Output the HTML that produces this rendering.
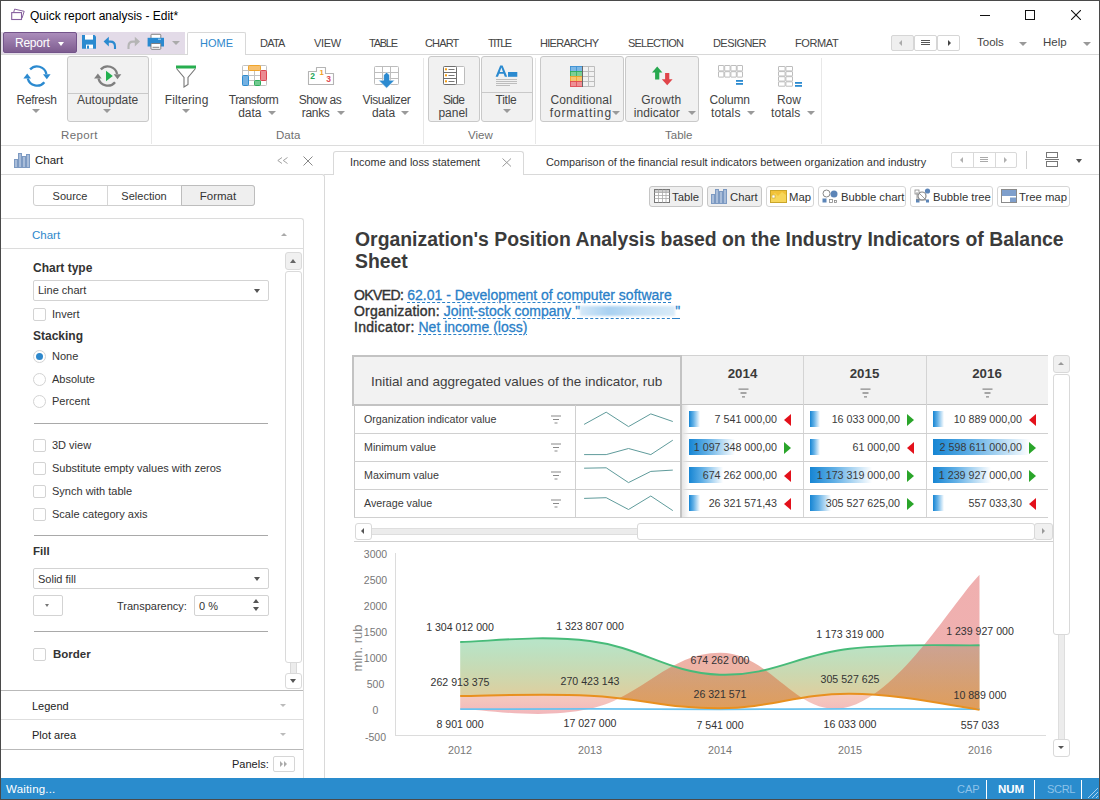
<!DOCTYPE html>
<html><head><meta charset="utf-8">
<style>
*{box-sizing:border-box;margin:0;padding:0}
html,body{width:1100px;height:800px;overflow:hidden;background:#fff;font-family:"Liberation Sans",sans-serif;color:#333;font-size:12px}
.a{position:absolute}
#win{position:absolute;left:0;top:0;width:1100px;height:800px;background:#fff;overflow:hidden}
.t{position:absolute;white-space:nowrap}
.tab{position:absolute;top:37px;font-size:11px;color:#444;letter-spacing:-0.3px;white-space:nowrap}
.rl{position:absolute;font-size:12px;color:#444;white-space:nowrap;line-height:13px;margin-top:3px}
.dd{position:absolute;width:0;height:0;border-left:4px solid transparent;border-right:4px solid transparent;border-top:4px solid #9a9a9a}
.glab{position:absolute;top:129px;font-size:11.5px;color:#707070;white-space:nowrap}
.gsep{position:absolute;top:58px;width:1px;height:86px;background:#e8e8e8}
.rbox{position:absolute;top:56px;height:66px;background:#f1f1f1;border:1px solid #c9c9c9;border-radius:3px}
.lab{-webkit-text-stroke:0.4px #333}
.lnk{color:#2a80c8;text-decoration:underline dashed #2a80c8;text-decoration-thickness:1px;text-underline-offset:2px;-webkit-text-stroke:0.3px #2a80c8}
</style></head><body>
<div id="win">
<!-- ===== title bar ===== -->
<svg class="a" style="left:8px;top:6px" width="20" height="16" viewBox="8 6 20 16"><rect x="11.7" y="12.6" width="9.8" height="6.9" fill="#fff" stroke="#86609e" stroke-width="1.1"/><path d="M13.7 12.4L14.6 9.1L24.2 11.3L22 18.2" fill="none" stroke="#86609e" stroke-width="1"/></svg>
<div class="t" style="left:30px;top:9px;font-size:12px;color:#000">Quick report analysis - Edit*</div>
<div class="a" style="left:980px;top:15px;width:10px;height:1px;background:#111"></div>
<div class="a" style="left:1025px;top:10px;width:10px;height:10px;border:1px solid #111"></div>
<svg class="a" style="left:1071px;top:10px" width="10" height="10"><path d="M0 0L10 10M10 0L0 10" stroke="#111" stroke-width="1.1"/></svg>

<!-- ===== ribbon tab row ===== -->
<div class="a" style="left:1px;top:32px;width:184px;height:22px;background:#e3dbe8"></div>
<div class="a" style="left:3px;top:32px;width:74px;height:21px;border-radius:2px;background:linear-gradient(#ab8dbb,#7e5d90);border:1px solid #73548a"></div>
<div class="t" style="left:15px;top:36px;font-size:12px;letter-spacing:-0.25px;color:#fff">Report</div>
<div class="dd" style="left:58px;top:42px;border-top-color:#fff;border-left-width:3.5px;border-right-width:3.5px"></div>
<!-- save -->
<svg class="a" style="left:80px;top:33px" width="20" height="18" viewBox="80 33 20 18"><path d="M82 35H94.5L96 36.5V48.7H82Z" fill="#2b8ad0"/><rect x="85" y="35" width="8" height="4.6" fill="#fff"/><rect x="86" y="44.6" width="7" height="4.1" fill="#fff"/><rect x="87" y="45.6" width="2" height="3.1" fill="#2b8ad0"/></svg>
<!-- undo -->
<svg class="a" style="left:102px;top:35px" width="16" height="15" viewBox="102 35 16 15"><path d="M103.6 41.6L108.8 36.8V46.4Z" fill="#2b8ad0"/><path d="M107.5 41.6H110.5Q115 41.6 115 46.5V49" fill="none" stroke="#2b8ad0" stroke-width="2.1"/></svg>
<!-- redo -->
<svg class="a" style="left:126px;top:35px" width="16" height="15" viewBox="126 35 16 15"><path d="M140 41.6L134.8 36.8V46.4Z" fill="#b5b5b5"/><path d="M136 41.6H133Q128.5 41.6 128.5 46.5V49" fill="none" stroke="#b5b5b5" stroke-width="2.1"/></svg>
<!-- print -->
<svg class="a" style="left:146px;top:33px" width="20" height="18" viewBox="146 33 20 18"><rect x="151" y="34.3" width="9.8" height="5" rx="0.8" fill="#fff" stroke="#777" stroke-width="0.9"/><rect x="147.6" y="37.8" width="16.4" height="8.7" fill="#2b8ad0"/><rect x="158" y="38.6" width="3" height="1.4" fill="#8cc4ec"/><rect x="151" y="43.5" width="9.8" height="5.8" rx="0.8" fill="#fff" stroke="#777" stroke-width="0.9"/><path d="M152.5 47.3H159.3" stroke="#777" stroke-width="0.9"/></svg>
<div class="dd" style="left:172px;top:41px;border-top-color:#aaa"></div>

<!-- tabs -->
<div class="a" style="left:187px;top:32px;width:59px;height:23px;background:#fff;border:1px solid #d8d8d8;border-bottom:none;border-radius:2px 2px 0 0"></div>
<div class="a" style="left:0;top:54px;width:187px;height:1px;background:#d8d8d8"></div>
<div class="a" style="left:246px;top:54px;width:854px;height:1px;background:#d8d8d8"></div>
<div class="tab" style="left:200px;letter-spacing:0px;color:#2e88cc">HOME</div>
<div class="tab" style="left:260px;letter-spacing:-0.77px">DATA</div>
<div class="tab" style="left:314px;letter-spacing:-0.33px">VIEW</div>
<div class="tab" style="left:369px;letter-spacing:-1.25px">TABLE</div>
<div class="tab" style="left:425px;letter-spacing:-0.85px">CHART</div>
<div class="tab" style="left:488px;letter-spacing:-1.45px">TITLE</div>
<div class="tab" style="left:540px;letter-spacing:-0.71px">HIERARCHY</div>
<div class="tab" style="left:628px;letter-spacing:-0.8px">SELECTION</div>
<div class="tab" style="left:713px;letter-spacing:-0.57px">DESIGNER</div>
<div class="tab" style="left:795px;letter-spacing:-0.4px">FORMAT</div>

<!-- nav buttons -->
<div class="a" style="left:891px;top:35px;width:23px;height:16px;background:#efefef;border:1px solid #d6d6d6;border-radius:2px"></div>
<div class="a" style="left:914px;top:35px;width:23px;height:16px;background:#fff;border:1px solid #d6d6d6;border-radius:2px"></div>
<div class="a" style="left:937px;top:35px;width:23px;height:16px;background:#fff;border:1px solid #d6d6d6;border-radius:2px"></div>
<div class="a" style="left:899px;top:40px;width:0;height:0;border-top:3px solid transparent;border-bottom:3px solid transparent;border-right:3px solid #aaa"></div>
<div class="a" style="left:921px;top:40px;width:9px;height:5px;border-top:1px solid #555;border-bottom:1px solid #555"></div>
<div class="a" style="left:921px;top:42px;width:9px;height:1px;background:#555"></div>
<div class="a" style="left:948px;top:40px;width:0;height:0;border-top:3px solid transparent;border-bottom:3px solid transparent;border-left:3px solid #444"></div>
<div class="tab" style="left:977px;top:36px;font-size:11.5px;letter-spacing:0">Tools</div>
<div class="dd" style="left:1019px;top:42px;border-top-color:#999"></div>
<div class="tab" style="left:1043px;top:36px;font-size:11.5px;letter-spacing:0">Help</div>
<div class="dd" style="left:1083px;top:42px;border-top-color:#999"></div>

<!-- ===== ribbon body ===== -->
<!-- Report group -->
<svg class="a" style="left:20px;top:62px" width="34" height="30" viewBox="20 62 34 30"><path d="M30.09 69.33A9.6 9.6 0 0 1 46.39 74.00" fill="none" stroke="#2b8ad0" stroke-width="2.3"/><path d="M44.35 82.17A9.6 9.6 0 0 1 27.73 78.48" fill="none" stroke="#2b8ad0" stroke-width="2.3"/><path d="M43.0 74.2L50.6 74.2L46.8 79.2z" fill="#2b8ad0"/><path d="M23.4 78.4L31.0 78.4L27.2 73.4z" fill="#2b8ad0"/></svg>
<div class="dd" style="left:32px;top:109px"></div>

<div class="rbox" style="left:67px;width:82px"></div>
<div class="a" style="left:68px;top:93px;width:80px;height:1px;background:#c9c9c9"></div>
<svg class="a" style="left:91px;top:62px" width="34" height="30" viewBox="91 62 34 30"><path d="M100.79 69.33A9.6 9.6 0 0 1 117.09 74.00" fill="none" stroke="#7f7f7f" stroke-width="2.3"/><path d="M115.05 82.17A9.6 9.6 0 0 1 98.43 78.48" fill="none" stroke="#7f7f7f" stroke-width="2.3"/><path d="M113.7 74.2L121.3 74.2L117.5 79.2z" fill="#7f7f7f"/><path d="M94.1 78.4L101.7 78.4L97.9 73.4z" fill="#7f7f7f"/><path d="M106.0 70.8L112.8 76L106.0 81.2z" fill="#22b04f"/></svg>
<div class="dd" style="left:103px;top:109px"></div>
<div class="glab" style="left:61px;letter-spacing:0.4px">Report</div>
<div class="gsep" style="left:151px"></div>

<!-- Data group -->
<svg class="a" style="left:175px;top:65px" width="22" height="23" viewBox="0 0 22 23"><rect x="1" y="0.5" width="20" height="3" fill="#27ae4f"/><path d="M1.5 3.5 L9 12.5 V22 L13 19.5 V12.5 L20.5 3.5" fill="none" stroke="#777" stroke-width="1.1"/></svg>
<div class="dd" style="left:182px;top:109px"></div>

<svg class="a" style="left:241px;top:64px" width="28" height="24" viewBox="241 64 28 24"><g fill="none" stroke="#c2c2c2" stroke-width="1"><rect x="242.5" y="65.5" width="24" height="20" rx="1"/><path d="M242.5 70.5H266.5M242.5 75.5H266.5M242.5 80.5H266.5M248.5 65.5V85.5M254.5 65.5V85.5M260.5 65.5V85.5"/></g><rect x="248.5" y="65.5" width="12" height="5" rx="1" fill="#f7c170" stroke="#f0a52c"/><rect x="260.5" y="70.5" width="6" height="10" rx="1" fill="#ea8a92" stroke="#df4450"/><rect x="242.5" y="75.5" width="6" height="10" rx="1" fill="#74b1e2" stroke="#2d8cd0"/><rect x="254.5" y="80.5" width="6" height="5" rx="1" fill="#72c990" stroke="#2fae5c"/></svg>
<div class="dd" style="left:268px;top:111px"></div>

<svg class="a" style="left:306px;top:65px" width="30" height="22" viewBox="306 65 30 22"><path d="M308.5 84.5V71.5H316.5V67.5H325.5V73.5H333.5V84.5Z" fill="#fff" stroke="#b4b4b4" stroke-width="1.1" stroke-linejoin="round"/><text x="310.3" y="79" font-size="8.5" font-family="Liberation Sans" font-weight="bold" fill="#27a85a">2</text><text x="319.5" y="74.5" font-size="7.8" font-family="Liberation Sans" font-weight="bold" fill="#f0a020">1</text><text x="326.3" y="81.5" font-size="8.5" font-family="Liberation Sans" font-weight="bold" fill="#e04a50">3</text></svg>
<div class="dd" style="left:337px;top:111px"></div>

<svg class="a" style="left:372px;top:64px" width="30" height="26" viewBox="372 64 30 26"><g fill="none" stroke="#bdbdbd" stroke-width="1"><rect x="374.5" y="66.5" width="24" height="18" rx="1"/><path d="M374.5 72.5H398.5M374.5 78.5H398.5M382.5 66.5V84.5M390.5 66.5V84.5"/></g><path d="M386.6 72.3L389.6 75V80.2H394.6L386.6 88.2L378.6 80.2H383.6V75Z" fill="#2b8ad0" stroke="#fff" stroke-width="0.6"/></svg>
<div class="dd" style="left:401px;top:111px"></div>
<div class="glab" style="left:276px">Data</div>
<div class="gsep" style="left:423px"></div>

<!-- View group -->
<div class="rbox" style="left:428px;width:52px"></div>
<svg class="a" style="left:441px;top:64px" width="26" height="23" viewBox="441 64 26 23"><rect x="443.5" y="66.5" width="21" height="18" rx="1" fill="#fff" stroke="#bcbcbc"/><rect x="443.5" y="66.5" width="13" height="18" rx="1" fill="#fff" stroke="#6f6f6f"/><path d="M443.5 72.5H456.5M443.5 78.5H456.5" stroke="#6f6f6f"/><g fill="#f39c12"><rect x="445" y="68.3" width="2" height="2"/><rect x="445" y="74.3" width="2" height="2"/><rect x="445" y="80.3" width="2" height="2"/></g><path d="M448.5 69.5H454.5M448.5 75.5H454.5M448.5 81.5H454.5" stroke="#777"/></svg>

<div class="rbox" style="left:481px;width:52px"></div>
<div class="a" style="left:482px;top:92px;width:50px;height:1px;background:#c9c9c9"></div>
<svg class="a" style="left:494px;top:63px" width="26" height="25" viewBox="494 63 26 25"><path d="M495.6 76.8L500.2 65.4H502.6L507.2 76.8H504.8L503.7 73.8H499.1L498 76.8ZM499.8 71.9H503L501.4 67.6Z" fill="#2b8ad0"/><rect x="508" y="72" width="9.3" height="4.8" fill="#2b8ad0"/><path d="M496 79.5H517M496 81.5H517M496 83.5H517M496 85.5H510" stroke="#b0b0b0" stroke-width="0.8"/></svg>
<div class="dd" style="left:503px;top:109px"></div>
<div class="glab" style="left:468px">View</div>
<div class="gsep" style="left:535px"></div>

<!-- Table group -->
<div class="rbox" style="left:540px;width:84px"></div>
<svg class="a" style="left:568px;top:64px" width="30" height="25" viewBox="568 64 30 25"><rect x="570.5" y="66.5" width="12" height="5" fill="#7db8e6" stroke="#3a8fd2" stroke-width="0.9"/><path d="M576.5 66.5V71.5" stroke="#3a8fd2" stroke-width="0.8"/><rect x="570.5" y="71.5" width="12" height="5" fill="#7ccf95" stroke="#33ad5a" stroke-width="0.9"/><path d="M576.5 71.5V76.5" stroke="#33ad5a" stroke-width="0.8"/><rect x="570.5" y="76.5" width="12" height="5" fill="#f6c46f" stroke="#eea22b" stroke-width="0.9"/><path d="M576.5 76.5V81.5" stroke="#eea22b" stroke-width="0.8"/><rect x="570.5" y="81.5" width="12" height="5" fill="#ee8f95" stroke="#df4a52" stroke-width="0.9"/><path d="M576.5 81.5V86.5" stroke="#df4a52" stroke-width="0.8"/><g fill="none" stroke="#bdbdbd"><path d="M582.5 66.5H594.5V86.5H582.5M582.5 71.5H594.5M582.5 76.5H594.5M582.5 81.5H594.5M588.5 66.5V86.5"/></g><path d="M582.5 66V87" stroke="#666" stroke-width="1"/></svg>
<div class="dd" style="left:612px;top:111px"></div>

<div class="rbox" style="left:625px;width:74px"></div>
<svg class="a" style="left:650px;top:65px" width="25" height="22" viewBox="650 65 25 22"><path d="M657.2 66.6L662.4 72.6H659.3V79.4H655.1V72.6H652Z" fill="#27a84f"/><path d="M665.1 73H669.3V79.2H672.6L667.2 85.2L661.8 79.2H665.1Z" fill="#e0454a"/></svg>
<div class="dd" style="left:688px;top:111px"></div>

<svg class="a" style="left:716px;top:63px" width="30" height="24" viewBox="716 63 30 24"><g fill="#fff" stroke="#bdbdbd" stroke-width="1"><rect x="718.5" y="65.5" width="5.4" height="5.4" rx="0.3"/><rect x="724.7" y="65.5" width="5.4" height="5.4" rx="0.3"/><rect x="730.9" y="65.5" width="5.4" height="5.4" rx="0.3"/><rect x="737.1" y="65.5" width="5.4" height="5.4" rx="0.3"/><rect x="718.5" y="71.7" width="5.4" height="5.4" rx="0.3"/><rect x="724.7" y="71.7" width="5.4" height="5.4" rx="0.3"/><rect x="730.9" y="71.7" width="5.4" height="5.4" rx="0.3"/><rect x="737.1" y="71.7" width="5.4" height="5.4" rx="0.3"/></g><rect x="736" y="80" width="7" height="1.8" fill="#2b8ad0"/><rect x="736" y="83" width="7" height="1.8" fill="#2b8ad0"/></svg>
<div class="dd" style="left:747px;top:111px"></div>

<svg class="a" style="left:776px;top:64px" width="28" height="24" viewBox="776 64 28 24"><g fill="#fff" stroke="#bdbdbd" stroke-width="1"><rect x="778.5" y="66.5" width="6.6" height="4.4" rx="0.3"/><rect x="785.9" y="66.5" width="6.6" height="4.4" rx="0.3"/><rect x="778.5" y="71.6" width="6.6" height="4.4" rx="0.3"/><rect x="785.9" y="71.6" width="6.6" height="4.4" rx="0.3"/><rect x="778.5" y="76.7" width="6.6" height="4.4" rx="0.3"/><rect x="785.9" y="76.7" width="6.6" height="4.4" rx="0.3"/><rect x="778.5" y="81.8" width="6.6" height="4.4" rx="0.3"/><rect x="785.9" y="81.8" width="6.6" height="4.4" rx="0.3"/></g><rect x="795" y="82" width="7" height="1.8" fill="#2b8ad0"/><rect x="795" y="85" width="7" height="1.8" fill="#2b8ad0"/></svg>
<div class="dd" style="left:807px;top:111px"></div>
<div class="glab" style="left:665px">Table</div>
<div class="gsep" style="left:821px"></div>

<div class="rl" style="left:16.6px;top:91px;letter-spacing:-0.3px">Refresh</div>
<div class="rl" style="left:76.9px;top:91px;letter-spacing:0px">Autoupdate</div>
<div class="rl" style="left:164.7px;top:91px;letter-spacing:0.12px">Filtering</div>
<div class="rl" style="left:228.8px;top:91px;letter-spacing:-0.55px">Transform</div>
<div class="rl" style="left:238.2px;top:104px;letter-spacing:0px">data</div>
<div class="rl" style="left:298.7px;top:91px;letter-spacing:-0.5px">Show as</div>
<div class="rl" style="left:301.7px;top:104px;letter-spacing:-0.3px">ranks</div>
<div class="rl" style="left:362.5px;top:91px;letter-spacing:-0.4px">Visualizer</div>
<div class="rl" style="left:371.9px;top:104px;letter-spacing:0px">data</div>
<div class="rl" style="left:443.0px;top:91px;letter-spacing:-0.67px">Side</div>
<div class="rl" style="left:438.4px;top:104px;letter-spacing:0px">panel</div>
<div class="rl" style="left:495.6px;top:91px;letter-spacing:-0.27px">Title</div>
<div class="rl" style="left:550.5px;top:91px;letter-spacing:0.13px">Conditional</div>
<div class="rl" style="left:549.7px;top:104px;letter-spacing:0.89px">formatting</div>
<div class="rl" style="left:641.3px;top:91px;letter-spacing:0.24px">Growth</div>
<div class="rl" style="left:633.7px;top:104px;letter-spacing:0.09px">indicator</div>
<div class="rl" style="left:709.5px;top:91px;letter-spacing:-0.2px">Column</div>
<div class="rl" style="left:711.0px;top:104px;letter-spacing:0.14px">totals</div>
<div class="rl" style="left:776.9px;top:91px;letter-spacing:0px">Row</div>
<div class="rl" style="left:771.0px;top:104px;letter-spacing:0.1px">totals</div>
<div class="a" style="left:0;top:145px;width:1100px;height:1px;background:#dcdcdc"></div>


<!-- ===== left panel ===== -->
<svg class="a" style="left:14px;top:153px" width="16" height="15" viewBox="0 0 16 15"><g fill="#a9bdd9" stroke="#7d9ac2" stroke-width="1"><rect x="0.5" y="6.5" width="3" height="8"/><rect x="4.5" y="0.5" width="3" height="14"/><rect x="8.5" y="3.5" width="3" height="11"/><rect x="12.5" y="1.5" width="3" height="13"/></g></svg>
<div class="t" style="left:35px;top:154px;font-size:11.5px;color:#222">Chart</div>
<svg class="a" style="left:277px;top:157px" width="11" height="7" viewBox="0 0 11 7"><path d="M5 0.5L0.8 3.5L5 6.5M10.5 0.5L6.3 3.5L10.5 6.5" fill="none" stroke="#999" stroke-width="0.9"/></svg>
<svg class="a" style="left:303px;top:156px" width="10" height="10" viewBox="0 0 10 10"><path d="M0.5 0.5L9.5 9.5M9.5 0.5L0.5 9.5" stroke="#888" stroke-width="1"/></svg>
<div class="a" style="left:0;top:174px;width:325px;height:604px;border-top:1px solid #d9d9d9;border-right:1px solid #d9d9d9;border-radius:0 3px 0 0"></div>

<div class="a" style="left:33px;top:185px;width:222px;height:21px;border:1px solid #cfcfcf;border-radius:3px;background:#fff"></div>
<div class="a" style="left:107px;top:186px;width:1px;height:19px;background:#d6d6d6"></div>
<div class="a" style="left:181px;top:185px;width:74px;height:21px;border:1px solid #bdbdbd;border-radius:0 3px 3px 0;background:#efefef"></div>
<div class="t" style="left:33px;top:190px;width:74px;text-align:center;font-size:11px;color:#333">Source</div>
<div class="t" style="left:107px;top:190px;width:74px;text-align:center;font-size:11px;color:#333">Selection</div>
<div class="t" style="left:181px;top:190px;width:74px;text-align:center;font-size:11.5px;color:#333">Format</div>

<div class="a" style="left:-5px;top:218px;width:309px;height:570px;border:1px solid #dcdcdc;border-bottom:none;border-radius:3px 3px 0 0"></div>
<div class="a" style="left:0;top:248px;width:303px;height:1px;background:#dcdcdc"></div>
<div class="t" style="left:32px;top:229px;font-size:11.5px;color:#2e88cc">Chart</div>
<div class="a" style="left:281px;top:233px;width:0;height:0;border-left:3px solid transparent;border-right:3px solid transparent;border-bottom:3px solid #aaa"></div>

<div class="t" style="left:33px;top:261px;font-size:12px;font-weight:bold;color:#333">Chart type</div>
<div class="a" style="left:33px;top:280px;width:236px;height:21px;border:1px solid #d3d3d3;border-radius:2px"></div>
<div class="t" style="left:38px;top:284px;font-size:11px;color:#333">Line chart</div>
<div class="dd" style="left:254px;top:289px;border-top-color:#555;border-left-width:3.5px;border-right-width:3.5px"></div>
<div class="a" style="left:33px;top:308px;width:13px;height:13px;border:1px solid #d3d3d3;border-radius:2px"></div>
<div class="t" style="left:52px;top:308px;font-size:11px;color:#333">Invert</div>
<div class="t" style="left:33px;top:329px;font-size:12px;font-weight:bold;color:#333">Stacking</div>
<div class="a" style="left:33px;top:350px;width:13px;height:13px;border:1px solid #d3d3d3;border-radius:50%"></div>
<div class="a" style="left:36px;top:353px;width:7px;height:7px;background:#2e88cc;border-radius:50%"></div>
<div class="t" style="left:52px;top:350px;font-size:11px;color:#333">None</div>
<div class="a" style="left:33px;top:373px;width:13px;height:13px;border:1px solid #d3d3d3;border-radius:50%"></div>
<div class="t" style="left:52px;top:373px;font-size:11px;color:#333">Absolute</div>
<div class="a" style="left:33px;top:395px;width:13px;height:13px;border:1px solid #d3d3d3;border-radius:50%"></div>
<div class="t" style="left:52px;top:395px;font-size:11px;color:#333">Percent</div>
<div class="a" style="left:34px;top:423px;width:234px;height:1px;background:#a9a9a9"></div>
<div class="a" style="left:33px;top:439px;width:13px;height:13px;border:1px solid #d3d3d3;border-radius:2px"></div>
<div class="t" style="left:52px;top:439px;font-size:11px;color:#333">3D view</div>
<div class="a" style="left:33px;top:462px;width:13px;height:13px;border:1px solid #d3d3d3;border-radius:2px"></div>
<div class="t" style="left:52px;top:462px;font-size:11px;color:#333">Substitute empty values with zeros</div>
<div class="a" style="left:33px;top:485px;width:13px;height:13px;border:1px solid #d3d3d3;border-radius:2px"></div>
<div class="t" style="left:52px;top:485px;font-size:11px;color:#333">Synch with table</div>
<div class="a" style="left:33px;top:508px;width:13px;height:13px;border:1px solid #d3d3d3;border-radius:2px"></div>
<div class="t" style="left:52px;top:508px;font-size:11px;color:#333">Scale category axis</div>
<div class="a" style="left:34px;top:535px;width:234px;height:1px;background:#a9a9a9"></div>
<div class="t" style="left:33px;top:545px;font-size:11.5px;font-weight:bold;color:#333">Fill</div>
<div class="a" style="left:33px;top:568px;width:236px;height:21px;border:1px solid #d3d3d3;border-radius:2px"></div>
<div class="t" style="left:38px;top:573px;font-size:11px;color:#333">Solid fill</div>
<div class="dd" style="left:254px;top:577px;border-top-color:#555;border-left-width:3.5px;border-right-width:3.5px"></div>
<div class="a" style="left:33px;top:595px;width:30px;height:21px;border:1px solid #d3d3d3;border-radius:2px"></div>
<div class="dd" style="left:45px;top:604px;border-top-color:#777;border-left-width:2.5px;border-right-width:2.5px;border-top-width:3px"></div>
<div class="t" style="left:117px;top:600px;font-size:11px;color:#333">Transparency:</div>
<div class="a" style="left:194px;top:595px;width:75px;height:21px;border:1px solid #d3d3d3;border-radius:2px"></div>
<div class="t" style="left:199px;top:600px;font-size:11px;color:#333">0 %</div>
<div class="a" style="left:253px;top:599px;width:0;height:0;border-left:3px solid transparent;border-right:3px solid transparent;border-bottom:4px solid #555"></div>
<div class="a" style="left:253px;top:607px;width:0;height:0;border-left:3px solid transparent;border-right:3px solid transparent;border-top:4px solid #555"></div>
<div class="a" style="left:34px;top:631px;width:234px;height:1px;background:#a9a9a9"></div>
<div class="a" style="left:33px;top:648px;width:13px;height:13px;border:1px solid #d3d3d3;border-radius:2px"></div>
<div class="t" style="left:53px;top:648px;font-size:11.5px;font-weight:bold;color:#333">Border</div>

<!-- panel scrollbar -->
<div class="a" style="left:285px;top:252px;width:17px;height:18px;background:#f0f0f0;border:1px solid #dadada;border-radius:3px"></div>
<div class="a" style="left:290px;top:259px;width:0;height:0;border-left:3.5px solid transparent;border-right:3.5px solid transparent;border-bottom:4px solid #666"></div>
<div class="a" style="left:285px;top:271px;width:17px;height:392px;background:#fff;border:1px solid #dadada;border-radius:3px"></div>
<div class="a" style="left:290px;top:663px;width:7px;height:11px;background:#ececec;border-left:1px solid #dadada;border-right:1px solid #dadada"></div>
<div class="a" style="left:285px;top:673px;width:17px;height:16px;background:#fff;border:1px solid #dadada;border-radius:3px"></div>
<div class="a" style="left:290px;top:679px;width:0;height:0;border-left:3.5px solid transparent;border-right:3.5px solid transparent;border-top:4px solid #555"></div>

<div class="a" style="left:0;top:690px;width:303px;height:1px;background:#b9b9b9"></div>
<div class="t" style="left:32px;top:700px;font-size:11px;color:#222">Legend</div>
<div class="dd" style="left:280px;top:704px;border-top-color:#bbb;border-left-width:3px;border-right-width:3px;border-top-width:3px"></div>
<div class="a" style="left:0;top:719px;width:303px;height:1px;background:#dedede"></div>
<div class="t" style="left:32px;top:729px;font-size:11px;color:#222">Plot area</div>
<div class="dd" style="left:280px;top:733px;border-top-color:#bbb;border-left-width:3px;border-right-width:3px;border-top-width:3px"></div>
<div class="a" style="left:0;top:749px;width:303px;height:1px;background:#b9b9b9"></div>
<div class="t" style="left:232px;top:758px;font-size:11px;color:#222">Panels:</div>
<div class="a" style="left:273px;top:756px;width:22px;height:16px;border:1px solid #d6d6d6;border-radius:2px"></div>
<svg class="a" style="left:279px;top:761px" width="10" height="6" viewBox="0 0 10 6"><path d="M1 0L4 3L1 6zM5 0L8 3L5 6z" fill="#aaa"/></svg>


<!-- ===== document tabs ===== -->
<div class="a" style="left:324px;top:174px;width:10px;height:1px;background:#d9d9d9"></div>
<div class="a" style="left:333px;top:151px;width:191px;height:24px;background:#fff;border:1px solid #d9d9d9;border-bottom:none;border-radius:3px 3px 0 0"></div>
<div class="a" style="left:523px;top:174px;width:576px;height:1px;background:#d9d9d9"></div>
<div class="t" style="left:350px;top:156px;font-size:10.9px;color:#333">Income and loss statement</div>
<svg class="a" style="left:502px;top:158px" width="10" height="9" viewBox="0 0 10 9"><path d="M0.5 0.5L9 8.5M9 0.5L0.5 8.5" stroke="#999" stroke-width="1"/></svg>
<div class="t" style="left:546px;top:156px;font-size:10.9px;color:#333">Comparison of the financial result indicators between organization and industry</div>
<div class="a" style="left:951px;top:152px;width:66px;height:16px;border:1px solid #d9d9d9;border-radius:2px"></div>
<div class="a" style="left:973px;top:153px;width:1px;height:14px;background:#d9d9d9"></div>
<div class="a" style="left:995px;top:153px;width:1px;height:14px;background:#d9d9d9"></div>
<div class="a" style="left:960px;top:157px;width:0;height:0;border-top:3.5px solid transparent;border-bottom:3.5px solid transparent;border-right:3.5px solid #b0b0b0"></div>
<div class="a" style="left:980px;top:157px;width:8px;height:5px;border-top:1px solid #aaa;border-bottom:1px solid #aaa"></div>
<div class="a" style="left:980px;top:159px;width:8px;height:1px;background:#aaa"></div>
<div class="a" style="left:1004px;top:157px;width:0;height:0;border-top:3.5px solid transparent;border-bottom:3.5px solid transparent;border-left:3.5px solid #b0b0b0"></div>
<div class="a" style="left:1026px;top:151px;width:1px;height:18px;background:#d0d0d0"></div>
<svg class="a" style="left:1045px;top:152px" width="15" height="15" viewBox="0 0 15 15"><rect x="1.5" y="0.5" width="11" height="5" fill="none" stroke="#777"/><rect x="1.5" y="9.5" width="11" height="5" fill="none" stroke="#777"/><path d="M0 7.5H14" stroke="#777"/></svg>
<div class="dd" style="left:1076px;top:159px;border-top-color:#555;border-left-width:3.5px;border-right-width:3.5px"></div>

<!-- toolbar -->
<div class="a" style="left:649px;top:186px;width:54px;height:21px;background:#efefef;border:1px solid #c6c6c6;border-radius:3px"></div>
<svg class="a" style="left:654px;top:189px" width="17" height="15" viewBox="0 0 17 15"><rect x="0.5" y="0.5" width="15" height="13" fill="#fff" stroke="#777"/><rect x="1" y="1" width="14" height="2.5" fill="#ccc"/><path d="M0.5 3.5H15.5M0.5 6.5H15.5M0.5 9.5H15.5M4.5 0.5V13.5M8.5 0.5V13.5M12 0.5V13.5" stroke="#aaa" stroke-width="0.8"/></svg>
<div class="t" style="left:672px;top:191px;font-size:11.3px;color:#333">Table</div>
<div class="a" style="left:707px;top:186px;width:55px;height:21px;background:#efefef;border:1px solid #c6c6c6;border-radius:3px"></div>
<svg class="a" style="left:711px;top:189px" width="17" height="15" viewBox="0 0 17 15"><g fill="#a9bdd9" stroke="#7d9ac2" stroke-width="1"><rect x="0.5" y="5.5" width="3" height="9"/><rect x="4.5" y="0.5" width="3" height="14"/><rect x="8.5" y="2.5" width="3" height="12"/><rect x="12.5" y="0.5" width="3" height="14"/></g></svg>
<div class="t" style="left:730px;top:191px;font-size:11.3px;color:#333">Chart</div>
<div class="a" style="left:766px;top:186px;width:48px;height:21px;background:#fff;border:1px solid #d6d6d6;border-radius:3px"></div>
<svg class="a" style="left:770px;top:190px" width="17" height="13" viewBox="0 0 17 13"><rect x="0.5" y="0.5" width="16" height="12" fill="#f7d659" stroke="#c9a52a"/><path d="M1 6L5 3L8 6L12 2L16 5V1H1z" fill="#f2c238"/><rect x="2" y="5" width="3" height="3" fill="#fff" stroke="#c9a52a" stroke-width="0.6"/></svg>
<div class="t" style="left:789px;top:191px;font-size:11.3px;color:#333">Map</div>
<div class="a" style="left:818px;top:186px;width:88px;height:21px;background:#fff;border:1px solid #d6d6d6;border-radius:3px"></div>
<svg class="a" style="left:822px;top:189px" width="17" height="15" viewBox="0 0 17 15"><circle cx="4.5" cy="4.5" r="3.5" fill="#fff" stroke="#888"/><circle cx="12" cy="5" r="3.5" fill="#5c85b8"/><rect x="0.5" y="9.5" width="4" height="4" fill="#5c85b8"/><rect x="7.5" y="10.5" width="3" height="3" fill="#fff" stroke="#888" stroke-width="0.8"/><rect x="12.5" y="11.5" width="2" height="2" fill="#fff" stroke="#888" stroke-width="0.8"/></svg>
<div class="t" style="left:841px;top:191px;font-size:11.3px;color:#333">Bubble chart</div>
<div class="a" style="left:910px;top:186px;width:83px;height:21px;background:#fff;border:1px solid #d6d6d6;border-radius:3px"></div>
<svg class="a" style="left:914px;top:188px" width="17" height="16" viewBox="0 0 17 16"><circle cx="8" cy="8" r="4" fill="#fff" stroke="#888" stroke-width="1.2"/><circle cx="13.5" cy="3" r="2.6" fill="#5c85b8"/><rect x="1" y="2" width="4" height="4" fill="#fff" stroke="#888" stroke-width="0.8"/><rect x="2" y="11" width="3.5" height="3.5" fill="#5c85b8"/><rect x="12" y="11.5" width="3" height="3" fill="#5c85b8"/><path d="M5 5L12 12M3 4V12H12" fill="none" stroke="#888" stroke-width="0.8"/></svg>
<div class="t" style="left:933px;top:191px;font-size:11.3px;color:#333">Bubble tree</div>
<div class="a" style="left:997px;top:186px;width:73px;height:21px;background:#fff;border:1px solid #d6d6d6;border-radius:3px"></div>
<svg class="a" style="left:1001px;top:189px" width="17" height="15" viewBox="0 0 17 15"><rect x="0.5" y="0.5" width="15" height="13" fill="#fff" stroke="#8a8a8a"/><rect x="1" y="1" width="14" height="6" fill="#7f9fcc"/><rect x="9" y="8.5" width="6" height="4.5" fill="#7f9fcc"/></svg>
<div class="t" style="left:1019px;top:191px;font-size:11.3px;color:#333">Tree map</div>

<!-- heading -->
<div class="t" style="left:355px;top:229px;font-size:19.4px;font-weight:bold;color:#3b3b3b;line-height:21.5px">Organization's Position Analysis based on the Industry Indicators of Balance<br>Sheet</div>
<div class="t meta" style="left:354px;top:288px;font-size:14px;line-height:15.8px;color:#333"><span class="lab" style="letter-spacing:-0.6px">OKVED:</span> <span class="lnk">62.01 - Development of computer software</span><br><span class="lab" style="letter-spacing:0.2px">Organization:</span> <span class="lnk">Joint-stock company "<span style="position:relative;display:inline-block;width:95px;height:13px;vertical-align:-3px;border-bottom:1px dashed #2a80c8"><span style="position:absolute;left:0;top:0;width:95px;height:10px;background:linear-gradient(90deg,#d6e9f8,#a9d1f1 30%,#c2def4 60%,#d9ebf8);filter:blur(1px)"></span></span>"</span><br><span class="lab" style="letter-spacing:0.3px">Indicator:</span> <span class="lnk">Net income (loss)</span></div>

<!-- ===== table ===== -->
<div class="a" style="left:352px;top:355px;width:330px;height:51px;background:#f2f2f2;border:2px solid #c3c3c3;border-right:none"></div>
<div class="t" style="left:371px;top:374px;font-size:13.5px;color:#3e3e3e">Initial and aggregated values of the indicator, rub</div>
<div class="a" style="left:682px;top:355px;width:366px;height:50px;background:#f2f2f2;border-top:1px solid #d2d2d2"></div>
<div class="a" style="left:682px;top:404px;width:366px;height:1px;background:#c6c6c6"></div>
<div class="t" style="left:682px;top:366px;width:121px;text-align:center;font-size:13.3px;font-weight:bold;color:#3a3a3a">2014</div>
<svg class="a" style="left:738px;top:388px" width="11" height="10" viewBox="0 0 11 10"><path d="M0.5 1.2H10.5M2.5 5H8.5M4 8.8H7" stroke="#8a8a8a" stroke-width="1.3"/></svg>
<div class="t" style="left:803px;top:366px;width:123px;text-align:center;font-size:13.3px;font-weight:bold;color:#3a3a3a">2015</div>
<svg class="a" style="left:860px;top:388px" width="11" height="10" viewBox="0 0 11 10"><path d="M0.5 1.2H10.5M2.5 5H8.5M4 8.8H7" stroke="#8a8a8a" stroke-width="1.3"/></svg>
<div class="t" style="left:926px;top:366px;width:122px;text-align:center;font-size:13.3px;font-weight:bold;color:#3a3a3a">2016</div>
<svg class="a" style="left:982px;top:388px" width="11" height="10" viewBox="0 0 11 10"><path d="M0.5 1.2H10.5M2.5 5H8.5M4 8.8H7" stroke="#8a8a8a" stroke-width="1.3"/></svg>
<div class="a" style="left:803px;top:355px;width:1px;height:163px;background:#d4d4d4"></div>
<div class="a" style="left:926px;top:355px;width:1px;height:163px;background:#d4d4d4"></div>
<div class="a" style="left:354px;top:405px;width:1px;height:113px;background:#c9c9c9"></div>
<div class="a" style="left:575px;top:405px;width:1px;height:113px;background:#d0d0d0"></div>
<div class="a" style="left:354px;top:433px;width:694px;height:1px;background:#d0d0d0"></div>
<div class="a" style="left:354px;top:461px;width:694px;height:1px;background:#d0d0d0"></div>
<div class="a" style="left:354px;top:489px;width:694px;height:1px;background:#d0d0d0"></div>
<div class="a" style="left:354px;top:517px;width:694px;height:1px;background:#d0d0d0"></div>
<div class="a" style="left:680px;top:355px;width:2px;height:163px;background:#c3c3c3"></div>
<div class="a" style="left:682px;top:405px;width:7px;height:112px;background:linear-gradient(90deg,#e4e4e4,rgba(255,255,255,0))"></div>
<div class="t" style="left:364px;top:413px;font-size:10.7px;color:#3a3a3a">Organization indicator value</div>
<svg class="a" style="left:551px;top:415px" width="10" height="9" viewBox="0 0 10 9"><path d="M0 1H10M2 4.5H8M3.5 8H6.5" stroke="#8a8a8a" stroke-width="1.2"/></svg>
<svg class="a" style="left:0;top:0" width="1100" height="800"><polyline points="584.1,424.4 606.2,412.2 628.5,426.6 650.8,413.9 672.8,421.5" fill="none" stroke="#5f9b9b" stroke-width="1"/></svg>
<div class="a" style="left:689px;top:411px;width:11px;height:16px;background:linear-gradient(90deg,#1685d3,#62b0e6 40%,rgba(255,255,255,0))"></div>
<div class="t" style="left:682px;top:413px;width:95px;text-align:right;font-size:10.7px;color:#3a3a3a">7 541 000,00</div>
<div class="a" style="left:784px;top:414px;width:0;height:0;border-top:6px solid transparent;border-bottom:6px solid transparent;border-right:7px solid #e3111b"></div>
<div class="a" style="left:810px;top:411px;width:10px;height:16px;background:linear-gradient(90deg,#1685d3,#62b0e6 40%,rgba(255,255,255,0))"></div>
<div class="t" style="left:803px;top:413px;width:97px;text-align:right;font-size:10.7px;color:#3a3a3a">16 033 000,00</div>
<div class="a" style="left:907px;top:414px;width:0;height:0;border-top:6px solid transparent;border-bottom:6px solid transparent;border-left:7px solid #2aa52a"></div>
<div class="a" style="left:933px;top:411px;width:11px;height:16px;background:linear-gradient(90deg,#1685d3,#62b0e6 40%,rgba(255,255,255,0))"></div>
<div class="t" style="left:926px;top:413px;width:96px;text-align:right;font-size:10.7px;color:#3a3a3a">10 889 000,00</div>
<div class="a" style="left:1029px;top:414px;width:0;height:0;border-top:6px solid transparent;border-bottom:6px solid transparent;border-right:7px solid #e3111b"></div>
<div class="t" style="left:364px;top:441px;font-size:10.7px;color:#3a3a3a">Minimum value</div>
<svg class="a" style="left:551px;top:443px" width="10" height="9" viewBox="0 0 10 9"><path d="M0 1H10M2 4.5H8M3.5 8H6.5" stroke="#8a8a8a" stroke-width="1.2"/></svg>
<svg class="a" style="left:0;top:0" width="1100" height="800"><polyline points="584.1,454.6 606.2,454.6 628.5,448.5 650.8,454.6 672.8,440.2" fill="none" stroke="#5f9b9b" stroke-width="1"/></svg>
<div class="a" style="left:689px;top:439px;width:46px;height:16px;background:linear-gradient(90deg,#1685d3,#62b0e6 40%,rgba(255,255,255,0))"></div>
<div class="t" style="left:682px;top:441px;width:95px;text-align:right;font-size:10.7px;color:#3a3a3a">1 097 348 000,00</div>
<div class="a" style="left:784px;top:442px;width:0;height:0;border-top:6px solid transparent;border-bottom:6px solid transparent;border-left:7px solid #2aa52a"></div>
<div class="a" style="left:810px;top:439px;width:10px;height:16px;background:linear-gradient(90deg,#1685d3,#62b0e6 40%,rgba(255,255,255,0))"></div>
<div class="t" style="left:803px;top:441px;width:97px;text-align:right;font-size:10.7px;color:#3a3a3a">61 000,00</div>
<div class="a" style="left:907px;top:442px;width:0;height:0;border-top:6px solid transparent;border-bottom:6px solid transparent;border-right:7px solid #e3111b"></div>
<div class="a" style="left:933px;top:439px;width:97px;height:16px;background:linear-gradient(90deg,#1685d3,#62b0e6 40%,rgba(255,255,255,0))"></div>
<div class="t" style="left:926px;top:441px;width:96px;text-align:right;font-size:10.7px;color:#3a3a3a">2 598 611 000,00</div>
<div class="a" style="left:1029px;top:442px;width:0;height:0;border-top:6px solid transparent;border-bottom:6px solid transparent;border-left:7px solid #2aa52a"></div>
<div class="t" style="left:364px;top:469px;font-size:10.7px;color:#3a3a3a">Maximum value</div>
<svg class="a" style="left:551px;top:471px" width="10" height="9" viewBox="0 0 10 9"><path d="M0 1H10M2 4.5H8M3.5 8H6.5" stroke="#8a8a8a" stroke-width="1.2"/></svg>
<svg class="a" style="left:0;top:0" width="1100" height="800"><polyline points="584.1,468.2 606.2,467.8 628.5,482.6 650.8,471.4 672.8,470.1" fill="none" stroke="#5f9b9b" stroke-width="1"/></svg>
<div class="a" style="left:689px;top:467px;width:34px;height:16px;background:linear-gradient(90deg,#1685d3,#62b0e6 40%,rgba(255,255,255,0))"></div>
<div class="t" style="left:682px;top:469px;width:95px;text-align:right;font-size:10.7px;color:#3a3a3a">674 262 000,00</div>
<div class="a" style="left:784px;top:470px;width:0;height:0;border-top:6px solid transparent;border-bottom:6px solid transparent;border-right:7px solid #e3111b"></div>
<div class="a" style="left:810px;top:467px;width:62px;height:16px;background:linear-gradient(90deg,#1685d3,#62b0e6 40%,rgba(255,255,255,0))"></div>
<div class="t" style="left:803px;top:469px;width:97px;text-align:right;font-size:10.7px;color:#3a3a3a">1 173 319 000,00</div>
<div class="a" style="left:907px;top:470px;width:0;height:0;border-top:6px solid transparent;border-bottom:6px solid transparent;border-left:7px solid #2aa52a"></div>
<div class="a" style="left:933px;top:467px;width:58px;height:16px;background:linear-gradient(90deg,#1685d3,#62b0e6 40%,rgba(255,255,255,0))"></div>
<div class="t" style="left:926px;top:469px;width:96px;text-align:right;font-size:10.7px;color:#3a3a3a">1 239 927 000,00</div>
<div class="a" style="left:1029px;top:470px;width:0;height:0;border-top:6px solid transparent;border-bottom:6px solid transparent;border-left:7px solid #2aa52a"></div>
<div class="t" style="left:364px;top:497px;font-size:10.7px;color:#3a3a3a">Average value</div>
<svg class="a" style="left:551px;top:499px" width="10" height="9" viewBox="0 0 10 9"><path d="M0 1H10M2 4.5H8M3.5 8H6.5" stroke="#8a8a8a" stroke-width="1.2"/></svg>
<svg class="a" style="left:0;top:0" width="1100" height="800"><polyline points="584.1,498.4 606.2,497.7 628.5,509.5 650.8,496.0 672.8,510.6" fill="none" stroke="#5f9b9b" stroke-width="1"/></svg>
<div class="a" style="left:689px;top:495px;width:11px;height:16px;background:linear-gradient(90deg,#1685d3,#62b0e6 40%,rgba(255,255,255,0))"></div>
<div class="t" style="left:682px;top:497px;width:95px;text-align:right;font-size:10.7px;color:#3a3a3a">26 321 571,43</div>
<div class="a" style="left:784px;top:498px;width:0;height:0;border-top:6px solid transparent;border-bottom:6px solid transparent;border-right:7px solid #e3111b"></div>
<div class="a" style="left:810px;top:495px;width:21px;height:16px;background:linear-gradient(90deg,#1685d3,#62b0e6 40%,rgba(255,255,255,0))"></div>
<div class="t" style="left:803px;top:497px;width:97px;text-align:right;font-size:10.7px;color:#3a3a3a">305 527 625,00</div>
<div class="a" style="left:907px;top:498px;width:0;height:0;border-top:6px solid transparent;border-bottom:6px solid transparent;border-left:7px solid #2aa52a"></div>
<div class="a" style="left:933px;top:495px;width:11px;height:16px;background:linear-gradient(90deg,#1685d3,#62b0e6 40%,rgba(255,255,255,0))"></div>
<div class="t" style="left:926px;top:497px;width:96px;text-align:right;font-size:10.7px;color:#3a3a3a">557 033,30</div>
<div class="a" style="left:1029px;top:498px;width:0;height:0;border-top:6px solid transparent;border-bottom:6px solid transparent;border-right:7px solid #e3111b"></div>
<div class="a" style="left:355px;top:523px;width:17px;height:17px;background:#fff;border:1px solid #d9d9d9;border-radius:3px"></div>
<div class="a" style="left:361px;top:528px;width:0;height:0;border-top:3.5px solid transparent;border-bottom:3.5px solid transparent;border-right:3.5px solid #555"></div>
<div class="a" style="left:372px;top:528px;width:266px;height:7px;background:#ececec;border-top:1px solid #dedede;border-bottom:1px solid #dedede"></div>
<div class="a" style="left:637px;top:523px;width:398px;height:17px;background:#fff;border:1px solid #d9d9d9;border-radius:3px"></div>
<div class="a" style="left:1034px;top:523px;width:19px;height:17px;background:#f0f0f0;border:1px solid #d9d9d9;border-radius:3px"></div>
<div class="a" style="left:1042px;top:528px;width:0;height:0;border-top:3.5px solid transparent;border-bottom:3.5px solid transparent;border-left:3.5px solid #999"></div>
<div class="a" style="left:354px;top:541px;width:699px;height:1px;background:#cfcfcf"></div>
<div class="a" style="left:1053px;top:355px;width:17px;height:18px;background:#f0f0f0;border:1px solid #d9d9d9;border-radius:3px"></div>
<div class="a" style="left:1058px;top:362px;width:0;height:0;border-left:3.5px solid transparent;border-right:3.5px solid transparent;border-bottom:3.5px solid #999"></div>
<div class="a" style="left:1053px;top:374px;width:17px;height:261px;background:#fff;border:1px solid #d9d9d9;border-radius:3px"></div>
<div class="a" style="left:1058px;top:635px;width:7px;height:105px;background:#ececec;border-left:1px solid #dedede;border-right:1px solid #dedede"></div>
<div class="a" style="left:1053px;top:739px;width:17px;height:18px;background:#fff;border:1px solid #d9d9d9;border-radius:3px"></div>
<div class="a" style="left:1058px;top:746px;width:0;height:0;border-left:3.5px solid transparent;border-right:3.5px solid transparent;border-top:3.5px solid #555"></div>
<!-- ===== chart ===== -->
<div class="a" style="left:395px;top:553px;width:1px;height:183px;background:#dcdcdc"></div>
<div class="a" style="left:395px;top:735px;width:651px;height:1px;background:#dcdcdc"></div>
<div class="t" style="left:350px;top:547px;width:51px;text-align:center;font-size:10.5px;line-height:14px;color:#777">3000</div>
<div class="t" style="left:350px;top:573px;width:51px;text-align:center;font-size:10.5px;line-height:14px;color:#777">2500</div>
<div class="t" style="left:350px;top:599px;width:51px;text-align:center;font-size:10.5px;line-height:14px;color:#777">2000</div>
<div class="t" style="left:350px;top:625px;width:51px;text-align:center;font-size:10.5px;line-height:14px;color:#777">1500</div>
<div class="t" style="left:350px;top:651px;width:51px;text-align:center;font-size:10.5px;line-height:14px;color:#777">1000</div>
<div class="t" style="left:350px;top:677px;width:51px;text-align:center;font-size:10.5px;line-height:14px;color:#777">500</div>
<div class="t" style="left:350px;top:703px;width:51px;text-align:center;font-size:10.5px;line-height:14px;color:#777">0</div>
<div class="t" style="left:350px;top:730px;width:51px;text-align:center;font-size:10.5px;line-height:14px;color:#777">-500</div>
<div class="t" style="left:318px;top:640px;width:80px;text-align:center;font-size:13px;line-height:16px;color:#8a8a8a;transform:rotate(-90deg)">mln. rub</div>
<div class="t" style="left:430px;top:743px;width:60px;text-align:center;font-size:10.8px;line-height:14px;color:#777">2012</div>
<div class="t" style="left:560px;top:743px;width:60px;text-align:center;font-size:10.8px;line-height:14px;color:#777">2013</div>
<div class="t" style="left:690px;top:743px;width:60px;text-align:center;font-size:10.8px;line-height:14px;color:#777">2014</div>
<div class="t" style="left:820px;top:743px;width:60px;text-align:center;font-size:10.8px;line-height:14px;color:#777">2015</div>
<div class="t" style="left:950px;top:743px;width:60px;text-align:center;font-size:10.8px;line-height:14px;color:#777">2016</div>
<svg class="a" style="left:0;top:0" width="1100" height="800">
<defs>
<linearGradient id="gG" gradientUnits="userSpaceOnUse" x1="0" y1="642" x2="0" y2="709"><stop offset="0" stop-color="rgb(60,180,100)" stop-opacity="0.36"/><stop offset="1" stop-color="rgb(222,150,45)" stop-opacity="0.52"/></linearGradient>
<linearGradient id="gPa" gradientUnits="userSpaceOnUse" x1="0" y1="576" x2="0" y2="709"><stop offset="0" stop-color="rgb(224,96,96)" stop-opacity="0.5"/><stop offset="0.52" stop-color="rgb(224,98,96)" stop-opacity="0.5"/><stop offset="1" stop-color="rgb(212,117,40)" stop-opacity="0.52"/></linearGradient>
<linearGradient id="gPb" gradientUnits="userSpaceOnUse" x1="0" y1="694" x2="0" y2="714"><stop offset="0" stop-color="rgb(235,140,110)" stop-opacity="0.45"/><stop offset="1" stop-color="rgb(228,110,120)" stop-opacity="0.5"/></linearGradient>
<clipPath id="cA"><path d="M460.2,696.1 C486.2,696.0 538.1,693.2 590.0,695.7 C642.0,698.1 667.9,708.7 719.9,708.3 C771.8,708.0 797.8,693.6 849.7,693.8 C901.6,694.1 953.6,706.5 979.5,709.7 L984.5,709.7 L984.5,540 L455.2,540 L455.2,696.1Z"/></clipPath>
<clipPath id="cB"><path d="M460.2,696.1 C486.2,696.0 538.1,693.2 590.0,695.7 C642.0,698.1 667.9,708.7 719.9,708.3 C771.8,708.0 797.8,693.6 849.7,693.8 C901.6,694.1 953.6,706.5 979.5,709.7 L984.5,709.7 L984.5,760 L455.2,760 L455.2,696.1Z"/></clipPath>
</defs>
<path d="M460.2,642.0 C486.2,641.8 538.1,634.5 590.0,641.0 C642.0,647.5 667.9,673.1 719.9,674.7 C771.8,676.3 797.8,654.7 849.7,648.8 C901.6,642.9 953.6,646.0 979.5,645.3 L979.5,709.7 C953.6,706.5 901.6,694.1 849.7,693.8 C797.8,693.6 771.8,708.0 719.9,708.3 C667.9,708.7 642.0,698.1 590.0,695.7 C538.1,693.2 486.2,696.0 460.2,696.1 Z" fill="url(#gG)"/>
<path d="M460.2,709.2 C486.2,709.2 538.1,720.1 590.0,708.8 C642.0,697.5 667.9,653.2 719.9,652.8 C771.8,652.3 797.8,722.1 849.7,706.5 C901.6,691.0 953.6,601.2 979.5,574.8 L979.5,709.7 C953.6,706.5 901.6,694.1 849.7,693.8 C797.8,693.6 771.8,708.0 719.9,708.3 C667.9,708.7 642.0,698.1 590.0,695.7 C538.1,693.2 486.2,696.0 460.2,696.1 Z" fill="url(#gPa)" clip-path="url(#cA)"/>
<path d="M460.2,709.2 C486.2,709.2 538.1,720.1 590.0,708.8 C642.0,697.5 667.9,653.2 719.9,652.8 C771.8,652.3 797.8,722.1 849.7,706.5 C901.6,691.0 953.6,601.2 979.5,574.8 L979.5,709.7 C953.6,706.5 901.6,694.1 849.7,693.8 C797.8,693.6 771.8,708.0 719.9,708.3 C667.9,708.7 642.0,698.1 590.0,695.7 C538.1,693.2 486.2,696.0 460.2,696.1 Z" fill="url(#gPb)" clip-path="url(#cB)"/>
<path d="M460.2,709.2 C486.2,709.2 538.1,708.8 590.0,708.8 C642.0,708.8 667.9,709.3 719.9,709.3 C771.8,709.3 797.8,708.9 849.7,708.9 C901.6,708.8 953.6,709.1 979.5,709.1" fill="none" stroke="#6ac2ef" stroke-width="1.7"/>
<path d="M460.2,696.1 C486.2,696.0 538.1,693.2 590.0,695.7 C642.0,698.1 667.9,708.7 719.9,708.3 C771.8,708.0 797.8,693.6 849.7,693.8 C901.6,694.1 953.6,706.5 979.5,709.7" fill="none" stroke="#e8901f" stroke-width="2"/>
<path d="M460.2,642.0 C486.2,641.8 538.1,634.5 590.0,641.0 C642.0,647.5 667.9,673.1 719.9,674.7 C771.8,676.3 797.8,654.7 849.7,648.8 C901.6,642.9 953.6,646.0 979.5,645.3" fill="none" stroke="#47bb79" stroke-width="1.9"/>
</svg>
<div class="t" style="left:410px;top:620px;width:100px;text-align:center;font-size:10.6px;line-height:14px;color:#333">1 304 012 000</div>
<div class="t" style="left:540px;top:619px;width:100px;text-align:center;font-size:10.6px;line-height:14px;color:#333">1 323 807 000</div>
<div class="t" style="left:670px;top:653px;width:100px;text-align:center;font-size:10.6px;line-height:14px;color:#333">674 262 000</div>
<div class="t" style="left:800px;top:627px;width:100px;text-align:center;font-size:10.6px;line-height:14px;color:#333">1 173 319 000</div>
<div class="t" style="left:930px;top:624px;width:100px;text-align:center;font-size:10.6px;line-height:14px;color:#333">1 239 927 000</div>
<div class="t" style="left:410px;top:675px;width:100px;text-align:center;font-size:10.6px;line-height:14px;color:#333">262 913 375</div>
<div class="t" style="left:540px;top:674px;width:100px;text-align:center;font-size:10.6px;line-height:14px;color:#333">270 423 143</div>
<div class="t" style="left:670px;top:687px;width:100px;text-align:center;font-size:10.6px;line-height:14px;color:#333">26 321 571</div>
<div class="t" style="left:800px;top:672px;width:100px;text-align:center;font-size:10.6px;line-height:14px;color:#333">305 527 625</div>
<div class="t" style="left:930px;top:688px;width:100px;text-align:center;font-size:10.6px;line-height:14px;color:#333">10 889 000</div>
<div class="t" style="left:410px;top:717px;width:100px;text-align:center;font-size:10.6px;line-height:14px;color:#333">8 901 000</div>
<div class="t" style="left:540px;top:716px;width:100px;text-align:center;font-size:10.6px;line-height:14px;color:#333">17 027 000</div>
<div class="t" style="left:670px;top:718px;width:100px;text-align:center;font-size:10.6px;line-height:14px;color:#333">7 541 000</div>
<div class="t" style="left:800px;top:717px;width:100px;text-align:center;font-size:10.6px;line-height:14px;color:#333">16 033 000</div>
<div class="t" style="left:930px;top:718px;width:100px;text-align:center;font-size:10.6px;line-height:14px;color:#333">557 033</div>
<!-- ===== status bar ===== -->
<div class="a" style="left:0;top:778px;width:1100px;height:22px;background:#2a8ccd"></div>
<div class="t" style="left:6px;top:783px;font-size:11.5px;letter-spacing:0.2px;color:#fff">Waiting...</div>
<div class="t" style="left:957px;top:783px;font-size:11px;color:#8ec3ea">CAP</div>
<div class="a" style="left:986px;top:780px;width:1px;height:19px;background:#fff"></div>
<div class="t" style="left:998px;top:783px;font-size:11.5px;font-weight:bold;color:#fff">NUM</div>
<div class="a" style="left:1034px;top:780px;width:1px;height:19px;background:#fff"></div>
<div class="t" style="left:1047px;top:783px;font-size:11px;letter-spacing:-0.3px;color:#8ec3ea">SCRL</div>
<div class="a" style="left:1081px;top:780px;width:1px;height:19px;background:#fff"></div>
<svg class="a" style="left:1087px;top:786px" width="12" height="13" viewBox="0 0 12 13"><path d="M11 2L1 12M11 6L5 12M11 10L9 12" stroke="#a9d2f0" stroke-width="1"/></svg>
<!-- window border -->
<div class="a" style="left:0;top:0;width:1100px;height:800px;border:1px solid #4a4a4a;pointer-events:none"></div>
</div>
</body></html>
